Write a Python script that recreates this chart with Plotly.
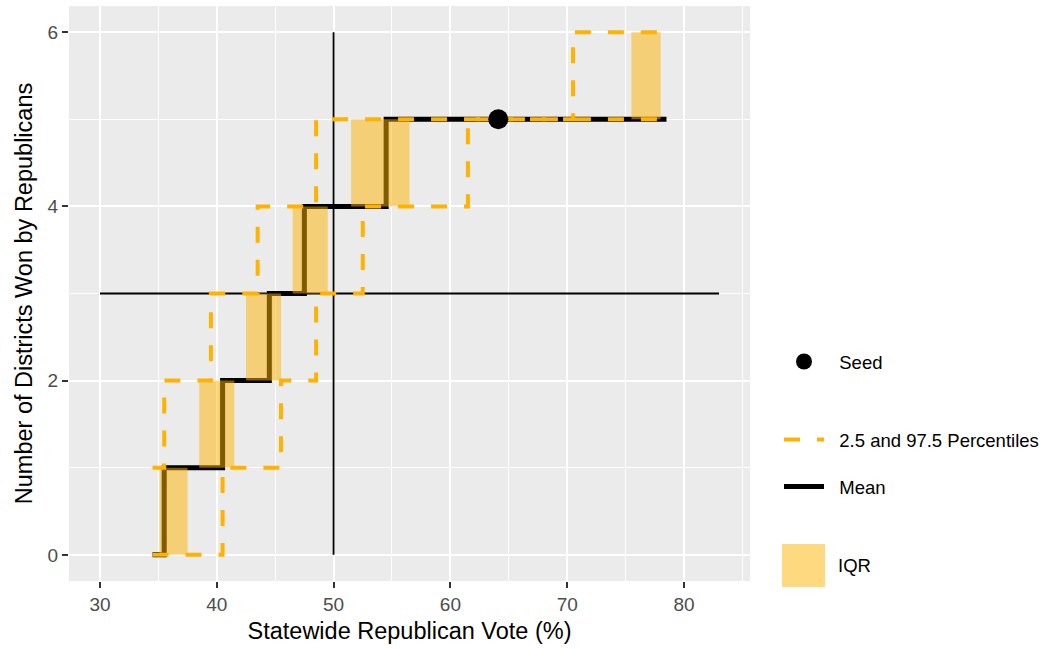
import plotly.graph_objects as go

# ---------------- data ----------------
seats = [0, 1, 2, 3, 4, 5]
seat_top = [1, 2, 3, 4, 5, 6]

mean_x = [34.5, 35.5, 40.5, 44.5, 47.5, 54.5, 78.5]
mean_y = [0, 1, 2, 3, 4, 5, 5]

p025_x = [34.5, 35.5, 39.5, 43.5, 48.5, 70.5, 78.5]
p025_y = [1, 2, 3, 4, 5, 6, 6]

p975_x = [34.5, 40.5, 45.5, 48.5, 52.5, 61.5, 78.5]
p975_y = [0, 1, 2, 3, 4, 5, 5]

iqr_lo = [35.1, 38.5, 42.5, 46.5, 51.5, 75.5]
iqr_hi = [37.5, 41.5, 45.5, 49.5, 56.5, 78.0]

seed_x = [64.1]
seed_y = [5]

ref_vote = 50
ref_seats = 3
hline_x = [30, 83]
vline_y = [0, 6]

x_ticks = [30, 40, 50, 60, 70, 80]
y_ticks = [0, 2, 4, 6]

# ---------------- styles ----------------
ORANGE = "#FFB300"
IQR_FILL = "rgba(255,179,0,0.5)"
FONT = "Liberation Sans, Arial, Helvetica, sans-serif"
NB = "\u00a0\u00a0"

fig = go.Figure()

# reference cross lines
fig.add_trace(go.Scatter(x=hline_x, y=[ref_seats] * len(hline_x), mode="lines",
                         line=dict(color="black", width=1.8), showlegend=False, hoverinfo="skip"))
fig.add_trace(go.Scatter(x=[ref_vote] * len(vline_y), y=vline_y, mode="lines",
                         line=dict(color="black", width=1.8), showlegend=False, hoverinfo="skip"))

# mean step line
fig.add_trace(go.Scatter(x=mean_x, y=mean_y, mode="lines", line_shape="hv",
                         line=dict(color="black", width=5), name=NB + "Mean",
                         legend="legend3"))

# IQR boxes
bx, by = [], []
for k, lo, hi, top in zip(seats, iqr_lo, iqr_hi, seat_top):
    bx += [lo, hi, hi, lo, lo, None]
    by += [k, k, top, top, k, None]
fig.add_trace(go.Scatter(x=bx, y=by, mode="none", fill="toself", fillcolor=IQR_FILL,
                         showlegend=False, hoverinfo="skip"))

# percentile step lines
fig.add_trace(go.Scatter(x=p025_x, y=p025_y, mode="lines", line_shape="hv",
                         line=dict(color=ORANGE, width=4, dash="16px,17px"),
                         name=NB + "2.5 and 97.5 Percentiles", legendgroup="pct",
                         legend="legend2"))
fig.add_trace(go.Scatter(x=p975_x, y=p975_y, mode="lines", line_shape="hv",
                         line=dict(color=ORANGE, width=4, dash="16px,17px"),
                         name=NB + "2.5 and 97.5 Percentiles", legendgroup="pct",
                         showlegend=False, legend="legend2"))

# seed point
fig.add_trace(go.Scatter(x=seed_x, y=seed_y, mode="markers",
                         marker=dict(color="black", size=20), name=NB + "Seed",
                         legend="legend"))

# ---------------- layout ----------------
L, R, T, B = 69, 294, 6, 68
W, H = 1044, 649
pw, ph = W - L - R, H - T - B


def px_x(p):
    return (p - L) / pw


def px_y(p):
    return (H - B - p) / ph


leg_common = dict(bgcolor="rgba(0,0,0,0)", font=dict(family=FONT, size=18.5, color="black"),
                  xanchor="left", yanchor="middle", itemwidth=40, borderwidth=0)

fig.update_layout(
    width=W, height=H,
    margin=dict(l=L, r=R, t=T, b=B, autoexpand=False),
    paper_bgcolor="white", plot_bgcolor="#EBEBEB",
    font=dict(family=FONT),
    legend=dict(x=px_x(779), y=px_y(362), **leg_common),
    legend2=dict(x=px_x(779), y=px_y(440), **leg_common),
    legend3=dict(x=px_x(779), y=px_y(487), **leg_common),
    xaxis=dict(range=[27.35, 85.65], tickmode="array", tickvals=x_ticks,
               ticktext=[str(v) for v in x_ticks],
               showgrid=True, gridcolor="white", gridwidth=2.3, zeroline=False,
               minor=dict(dtick=5, tick0=25, showgrid=True, gridcolor="white", gridwidth=1.1),
               ticks="outside", ticklen=6, tickwidth=2, tickcolor="#333333",
               tickfont=dict(size=19, color="#4D4D4D", family=FONT),
               title=dict(text="Statewide Republican Vote (%)", standoff=8,
                          font=dict(size=23.5, color="black", family=FONT)),
               automargin=False, showline=False),
    yaxis=dict(range=[-0.3, 6.3], tickmode="array", tickvals=y_ticks,
               ticktext=[str(v) for v in y_ticks],
               showgrid=True, gridcolor="white", gridwidth=2.3, zeroline=False,
               minor=dict(dtick=1, tick0=0, showgrid=True, gridcolor="white", gridwidth=1.1),
               ticks="outside", ticklen=6, tickwidth=2, tickcolor="#333333",
               tickfont=dict(size=19, color="#4D4D4D", family=FONT),
               title=dict(text="Number of Districts Won by Republicans", standoff=8,
                          font=dict(size=23.5, color="black", family=FONT)),
               automargin=False, showline=False),
)

# IQR legend key (separate legend in the original)
fig.add_shape(type="rect", xref="paper", yref="paper",
              x0=px_x(782), x1=px_x(825), y0=px_y(587), y1=px_y(544),
              fillcolor=IQR_FILL, line=dict(width=0))
fig.add_annotation(xref="paper", yref="paper", x=px_x(836), y=px_y(565.5),
                   text="IQR", showarrow=False, xanchor="left", yanchor="middle",
                   font=dict(family=FONT, size=18.5, color="black"))

fig.write_html("out.html")
